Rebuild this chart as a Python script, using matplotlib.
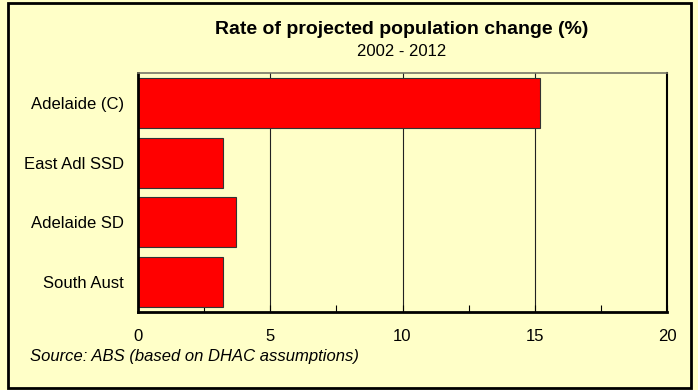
import matplotlib.pyplot as plt
from matplotlib.patches import Rectangle

# -------- Data --------
regions = ["Adelaide (C)", "East Adl SSD", "Adelaide SD", "South Aust"]
change_pct = [15.2, 3.2, 3.7, 3.2]
x_ticks = [0, 5, 10, 15, 20]

BG = "#FFFFC8"
BAR = "#FF0000"

plt.rcParams["font.family"] = ["Liberation Sans", "DejaVu Sans"]

fig = plt.figure(figsize=(6.98, 3.90), dpi=100, facecolor=BG)
W, H = 698, 390
ax = fig.add_axes([138 / W, 1 - 312 / H, (667 - 138) / W, (312 - 73) / H])
ax.set_facecolor(BG)

ypos = list(range(len(regions)))
ax.barh(ypos, change_pct, height=0.84, color=BAR, edgecolor="#333333",
        linewidth=0.8, zorder=2)
ax.set_ylim(len(regions) - 0.5, -0.5)
ax.set_xlim(0, 20)

# -------- Axes styling --------
ax.set_xticks(x_ticks)
ax.set_xticks([2.5, 7.5, 12.5, 17.5], minor=True)
ax.set_xticklabels([str(t) for t in x_ticks], fontsize=12)
ax.tick_params(axis="x", which="both", direction="in", length=5, width=0.8, pad=12)
ax.set_yticks(ypos)
ax.set_yticklabels(regions, fontsize=12)
ax.tick_params(axis="y", direction="in", length=7, width=1.2, pad=10)

for x in [5, 10, 15]:
    ax.axvline(x, color="#222222", linewidth=0.8, zorder=1)

ax.spines["left"].set_linewidth(2)
ax.spines["bottom"].set_linewidth(2)
ax.spines["right"].set_linewidth(1.5)
ax.spines["top"].set_linewidth(1.2)
ax.spines["top"].set_color("#777766")

# -------- Titles --------
fig.text(402 / W, 1 - 30 / H, "Rate of projected population change (%)",
         ha="center", va="center", fontsize=14, fontweight="bold")
fig.text(402 / W, 1 - 52 / H, "2002 - 2012", ha="center", va="center", fontsize=12)
fig.text(30 / W, 1 - 357 / H, "Source: ABS (based on DHAC assumptions)",
         ha="left", va="center", fontsize=12, style="italic")

# -------- Outer border --------
fig.patches.append(Rectangle((8 / W, 1 - 388 / H), (691 - 8) / W, (388 - 3) / H,
                             transform=fig.transFigure, fill=False,
                             edgecolor="black", linewidth=2))

fig.savefig("out.png", dpi=100, facecolor=BG)
